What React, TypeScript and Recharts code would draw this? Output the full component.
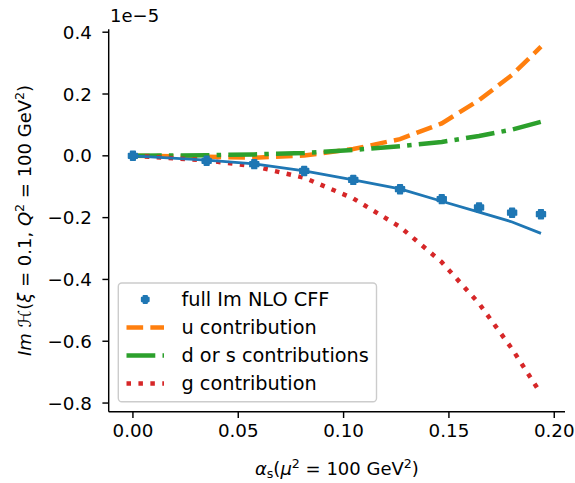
import React from 'react';
import { ComposedChart, Line, Scatter, XAxis, YAxis, Legend } from 'recharts';

// alpha_s values (x) and contributions in units of 1e-5
const alphaS = [0, 0.035, 0.0576, 0.0813, 0.1046, 0.1268, 0.1466, 0.1643, 0.18, 0.1937];
const fullCFF = [0, -0.016, -0.027, -0.049, -0.078, -0.108, -0.14, -0.167, -0.184, -0.189];
const fullLine = [0, -0.014, -0.026, -0.049, -0.078, -0.107, -0.147, -0.182, -0.214, -0.251];
const uContrib = [0, -0.003, -0.006, 0.001, 0.022, 0.054, 0.105, 0.18, 0.262, 0.353];
const dsContrib = [0, 0.002, 0.0045, 0.0095, 0.019, 0.031, 0.045, 0.064, 0.085, 0.11];
const gContrib = [0, -0.015, -0.034, -0.071, -0.138, -0.23, -0.344, -0.478, -0.625, -0.77];

const xTicks = [0, 0.05, 0.1, 0.15, 0.2];
const yTicks = [-0.8, -0.6, -0.4, -0.2, 0, 0.2, 0.4];
const legendLabels = ['full Im NLO CFF', 'u contribution', 'd or s contributions', 'g contribution'];

const data = alphaS.map((x, i) => ({
  x,
  full: fullCFF[i],
  fullLine: fullLine[i],
  u: uContrib[i],
  ds: dsContrib[i],
  g: gContrib[i],
}));

const FONT = "'DejaVu Sans', sans-serif";
const BLUE = '#1f77b4';
const ORANGE = '#ff7f0e';
const GREEN = '#2ca02c';
const RED = '#d62728';
const LW = 4.5;
const DASH_U = `${3.7 * LW} ${1.6 * LW}`;
const DASH_DS = `${6.4 * LW} ${1.6 * LW} ${1 * LW} ${1.6 * LW}`;
const DASH_G = `${1 * LW} ${1.65 * LW}`;

const X_DOMAIN: [number, number] = [-0.0115, 0.2051];
const Y_DOMAIN: [number, number] = [-0.828, 0.4094];

const plusPath = (cx: number, cy: number, size: number) => {
  const h = size / 2;
  const a = size * 0.26;
  return `M${cx - a},${cy - h}H${cx + a}V${cy - a}H${cx + h}V${cy + a}H${cx + a}V${cy + h}H${cx - a}V${cy + a}H${cx - h}V${cy - a}H${cx - a}Z`;
};

const PlusMarker = (props: any) => {
  const { cx, cy } = props;
  if (cx == null || cy == null) return null;
  return <path d={plusPath(cx, cy, 8.6)} fill={BLUE} stroke={BLUE} strokeWidth={1.8} strokeLinejoin="round" />;
};

const fmtY = (v: number) => {
  const s = Math.abs(v).toFixed(1);
  return v < -1e-9 ? '\u2212' + s : s;
};
const fmtX = (v: number) => v.toFixed(2);

const renderYLabel = () => (
  <g>
    <text
      x={31}
      y={220.5}
      transform="rotate(-90, 31, 220.5)"
      textAnchor="middle"
      fontFamily={FONT}
      fontSize={18}
      fill="#000"
    >
      <tspan fontStyle="italic">Im</tspan>
      <tspan> ℋ(</tspan>
      <tspan fontStyle="italic">ξ</tspan>
      <tspan> = 0.1, </tspan>
      <tspan fontStyle="italic">Q</tspan>
      <tspan fontSize={12.6} dy={-7}>2</tspan>
      <tspan dy={7}> = 100 GeV</tspan>
      <tspan fontSize={12.6} dy={-7}>2</tspan>
      <tspan dy={7}>)</tspan>
    </text>
    <text x={110} y={21.7} fontFamily={FONT} fontSize={18} fill="#000">
      1e{'\u2212'}5
    </text>
  </g>
);

const renderXLabel = () => (
  <text x={336.9} y={474.5} textAnchor="middle" fontFamily={FONT} fontSize={18} fill="#000">
    <tspan fontStyle="italic">α</tspan>
    <tspan fontSize={12.6} dy={3}>s</tspan>
    <tspan dy={-3}>(</tspan>
    <tspan fontStyle="italic">μ</tspan>
    <tspan fontSize={12.6} dy={-7}>2</tspan>
    <tspan dy={7}> = 100 GeV</tspan>
    <tspan fontSize={12.6} dy={-7}>2</tspan>
    <tspan dy={7}>)</tspan>
  </text>
);

const LegendOverlay = () => {
  const x0 = 126.5;
  const x1 = 164;
  const tx = 181.5;
  const rows = [299.5, 327.5, 355.5, 383.5];
  return (
    <svg width={575} height={483} style={{ position: 'absolute', left: 0, top: 0, overflow: 'visible' }}>
      <rect x={118.3} y={283} width={258.2} height={118.7} rx={3.5} ry={3.5} fill="#fff" fillOpacity={0.8} stroke="#cccccc" strokeWidth={1.4} />
      <path d={plusPath((x0 + x1) / 2, rows[0], 7.2)} fill={BLUE} stroke={BLUE} strokeWidth={1.6} strokeLinejoin="round" />
      <line x1={x0} x2={x1} y1={rows[1]} y2={rows[1]} stroke={ORANGE} strokeWidth={LW} strokeDasharray={DASH_U} />
      <line x1={x0} x2={x1} y1={rows[2]} y2={rows[2]} stroke={GREEN} strokeWidth={LW} strokeDasharray={DASH_DS} />
      <line x1={x0} x2={x1} y1={rows[3]} y2={rows[3]} stroke={RED} strokeWidth={LW} strokeDasharray={DASH_G} />
      {legendLabels.map((l, i) => (
        <text key={l} x={tx} y={rows[i] + 6.5} fontFamily={FONT} fontSize={19.3} fill="#000">
          {l}
        </text>
      ))}
    </svg>
  );
};

export default function App() {
  const tickStyle = { fill: '#000', fontSize: 18.3, fontFamily: FONT };
  return (
    <div style={{ position: 'absolute', left: 0, top: 0, width: 575, height: 483, background: '#fff' }}>
      <ComposedChart width={575} height={483} data={data} margin={{ top: 29.3, right: 10, bottom: 0, left: 0 }}>
        <XAxis
          dataKey="x"
          type="number"
          domain={X_DOMAIN}
          ticks={xTicks}
          tickFormatter={fmtX}
          allowDataOverflow
          height={71.3}
          tick={tickStyle}
          tickSize={6.3}
          tickMargin={6.3}
          stroke="#000"
          axisLine={{ stroke: '#000', strokeWidth: 1.44 }}
          tickLine={{ stroke: '#000', strokeWidth: 1.44 }}
          label={renderXLabel}
        />
        <XAxis
          xAxisId="top"
          orientation="top"
          dataKey="x"
          type="number"
          domain={X_DOMAIN}
          allowDataOverflow
          height={0}
          tick={false}
          tickLine={false}
          axisLine={{ stroke: '#000', strokeWidth: 1.44 }}
        />
        <YAxis
          type="number"
          domain={Y_DOMAIN}
          ticks={yTicks}
          tickFormatter={fmtY}
          allowDataOverflow
          width={108.7}
          tick={tickStyle}
          tickSize={6.3}
          tickMargin={10.5}
          axisLine={{ stroke: '#000', strokeWidth: 1.44 }}
          tickLine={{ stroke: '#000', strokeWidth: 1.44 }}
          label={renderYLabel}
        />
        <YAxis
          yAxisId="right"
          orientation="right"
          type="number"
          domain={Y_DOMAIN}
          allowDataOverflow
          width={0}
          tick={false}
          tickLine={false}
          axisLine={{ stroke: '#000', strokeWidth: 1.44 }}
        />
        <Scatter dataKey="full" fill={BLUE} shape={PlusMarker} isAnimationActive={false} legendType="none" />
        <Line type="linear" dataKey="u" stroke={ORANGE} strokeWidth={LW} strokeDasharray={DASH_U} dot={false} activeDot={false} isAnimationActive={false} />
        <Line type="linear" dataKey="ds" stroke={GREEN} strokeWidth={LW} strokeDasharray={DASH_DS} dot={false} activeDot={false} isAnimationActive={false} />
        <Line type="linear" dataKey="g" stroke={RED} strokeWidth={LW} strokeDasharray={DASH_G} dot={false} activeDot={false} isAnimationActive={false} />
        <Line type="linear" dataKey="fullLine" stroke={BLUE} strokeWidth={2.8} dot={false} activeDot={false} isAnimationActive={false} />
        <Legend
          layout="vertical"
          align="center"
          verticalAlign="middle"
          wrapperStyle={{ left: 0, top: 0, width: 575, height: 483, margin: 0, padding: 0, pointerEvents: 'none' }}
          content={() => <LegendOverlay />}
        />
      </ComposedChart>
    </div>
  );
}
